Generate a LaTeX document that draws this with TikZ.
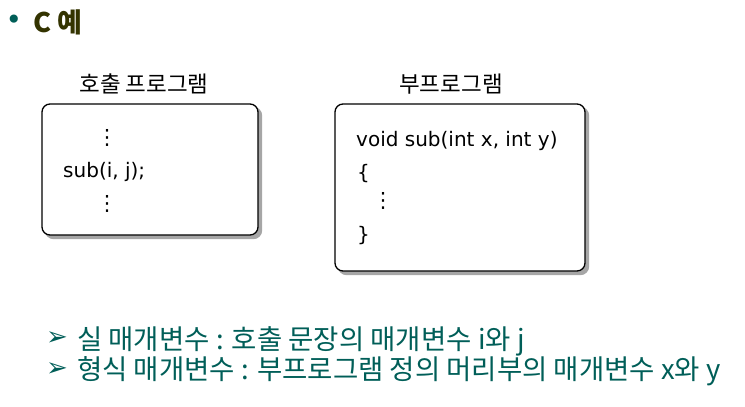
\documentclass[tikz,border=0pt]{standalone}
\usepackage{fontspec}
\setmainfont{Noto Sans CJK KR}
\newfontfamily\symfont{DejaVu Sans}
\usetikzlibrary{shadows}
\definecolor{noteteal}{RGB}{0,94,88}
\definecolor{headolive}{RGB}{51,51,0}

\begin{document}
\begin{tikzpicture}[x=1pt,y=-1pt,
  codebox/.style={draw=black,line width=1.3pt,rounded corners=8pt,fill=white,
    copy shadow={shadow xshift=3.5pt,shadow yshift=-3.5pt,fill=black!35,draw=black!35}},
  code/.style={font=\symfont\fontsize{20}{24}\selectfont,anchor=base west,inner sep=0pt},
  vdots/.style={font=\symfont\fontsize{21}{21}\selectfont,inner sep=0pt},
  caption/.style={font=\fontsize{22.5}{26}\selectfont,inner sep=0pt},
  arrowbullet/.style={font=\symfont\fontsize{26}{26}\selectfont,text=noteteal,inner sep=0pt},
  note/.style={font=\fontsize{27.5}{32}\selectfont,text=noteteal,anchor=base west,inner sep=0pt}]
\useasboundingbox (0,0) rectangle (745,407);
% heading
\node[text=noteteal,font=\symfont\fontsize{28}{28}\selectfont,inner sep=0pt] (dot) at (14,22) {•};
\node[font=\bfseries\fontsize{27}{30}\selectfont,text=headolive,anchor=west,inner sep=0pt] (head) at (33,22) {C 예};

% the two programs
\node[caption] (callertitle) at (144,84) {호출 프로그램};
\node[caption] (calleetitle) at (451,84) {부프로그램};
\node[codebox,minimum width=216pt,minimum height=131pt] (caller) at (150,169.5) {};
\node[codebox,minimum width=250pt,minimum height=167pt] (callee) at (460,187.5) {};

\path
(107,138) node [vdots] (callerdotsA) {⋮}
(63,177) node [code] (call) {sub(i, j);}
(107,204) node [vdots] (callerdotsB) {⋮}
;
\path
(356,146) node [code] (header) {void sub(int x, int y)}
(357,179) node [code] (lbrace) {\{}
(383,201) node [vdots] (calleedots) {⋮}
(357,241) node [code] (rbrace) {\}}
;

% notes
\node[arrowbullet] (bulletA) at (57,339) {➢};
\node[note] (actual) at (77,349) {실 매개변수 : 호출 문장의 매개변수 i와 j};
\node[arrowbullet] (bulletB) at (57,370) {➢};
\node[note] (formal) at (77,379) {형식 매개변수 : 부프로그램 정의 머리부의 매개변수 x와 y};
\end{tikzpicture}
\end{document}
